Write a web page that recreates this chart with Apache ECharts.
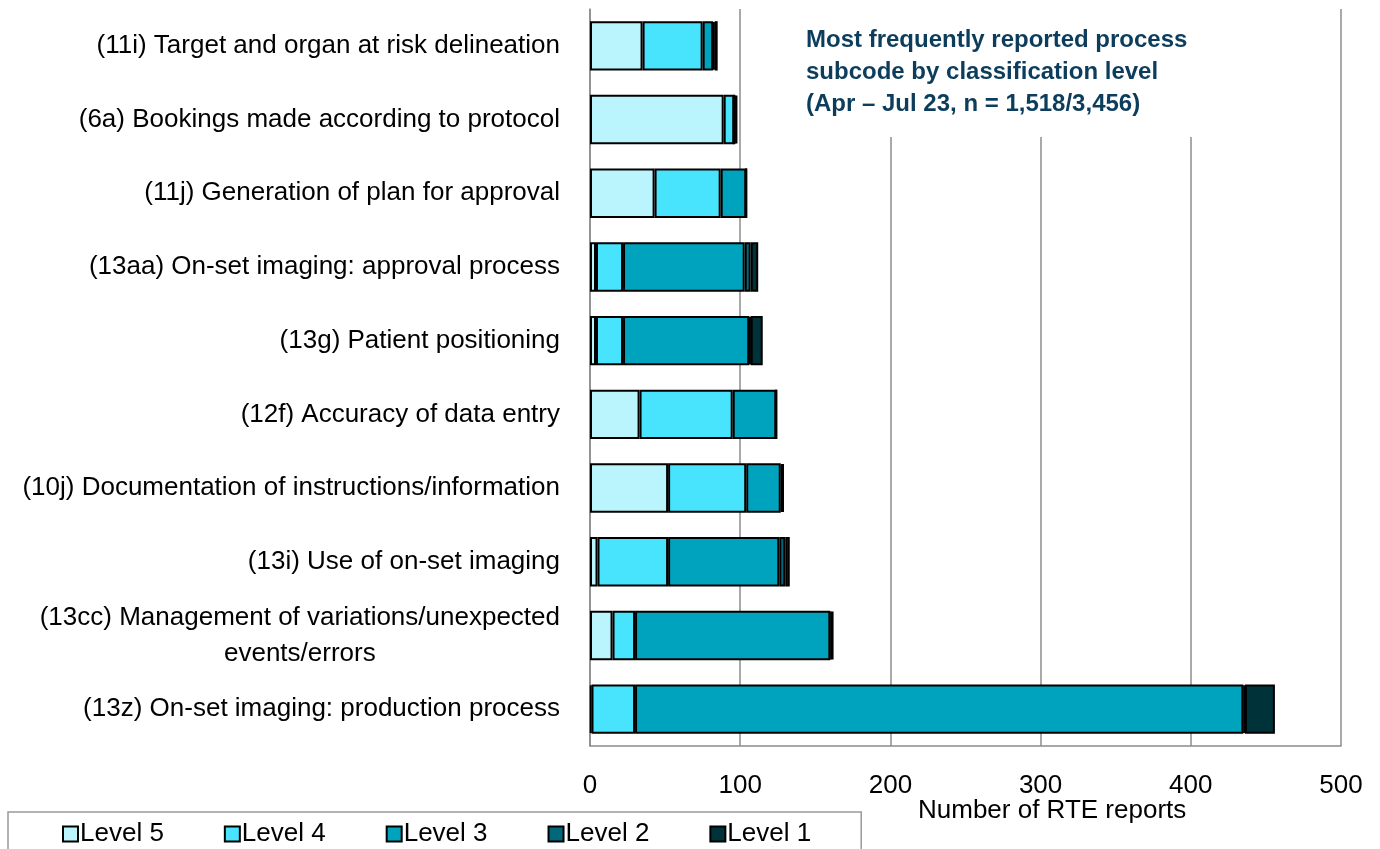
<!DOCTYPE html>
<html>
<head>
<meta charset="utf-8">
<script src="https://cdn.jsdelivr.net/npm/echarts@6/dist/echarts.min.js"></script>
<style>
  html, body { margin: 0; padding: 0; background: #fff; }
  #chart { width: 1380px; height: 849px; }
</style>
</head>
<body>
<div id="chart"></div>
<script>
// categories, top to bottom
var categories = [
    '(11i) Target and organ at risk delineation',
    '(6a) Bookings made according to protocol',
    '(11j) Generation of plan for approval',
    '(13aa) On-set imaging: approval process',
    '(13g) Patient positioning',
    '(12f) Accuracy of data entry',
    '(10j) Documentation of instructions/information',
    '(13i) Use of on-set imaging',
    '(13cc) Management of variations/unexpected\nevents/errors',
    '(13z) On-set imaging: production process'
];
var level5 = [35, 89, 43, 4, 4, 33, 52, 5, 15, 1];
var level4 = [40, 7, 44, 18, 18, 62, 52, 47, 15, 29];
var level3 = [7, 0, 17, 81, 84, 29, 23, 74, 130, 405];
var level2 = [1, 1, 0, 4, 1, 0, 1, 4, 1, 1];
var level1 = [2, 1, 0, 5, 8, 0, 1, 3, 1, 20];
var xTicks = [0, 100, 200, 300, 400, 500];

var font = "'Liberation Sans', Arial, sans-serif";

function makeSeries(name, data, color) {
    return {
        name: name,
        type: 'bar',
        stack: 'total',
        data: data,
        barCategoryGap: '33%',
        itemStyle: { color: color, borderColor: '#000', borderWidth: 2 },
        emphasis: { disabled: true }
    };
}

var chart = echarts.init(document.getElementById('chart'));
chart.setOption({
    animation: false,
    grid: { left: 590, right: 39, top: 9, bottom: 103 },
    legend: {
        left: 8,
        top: 812,
        icon: 'rect',
        itemWidth: 15,
        itemHeight: 15,
        itemGap: 60,
        padding: [9, 50, 20, 54],
        borderColor: '#999',
        borderWidth: 1.5,
        textStyle: { fontFamily: font, fontSize: 26, color: '#000', padding: [0, 0, 0, -3] },
        data: ['Level 5', 'Level 4', 'Level 3', 'Level 2', 'Level 1']
    },
    xAxis: {
        type: 'value',
        min: xTicks[0],
        max: xTicks[xTicks.length - 1],
        interval: 100,
        axisLine: { show: true, lineStyle: { color: '#8c8c8c', width: 1.5 } },
        axisTick: { show: false },
        axisLabel: { margin: 27, fontFamily: font, fontSize: 26, color: '#000' },
        splitLine: { show: true, lineStyle: { color: '#8c8c8c', width: 1.5 } }
    },
    yAxis: {
        type: 'category',
        inverse: true,
        data: categories,
        axisLine: { show: true, lineStyle: { color: '#8c8c8c', width: 1.5 } },
        axisTick: { show: false },
        axisLabel: {
            margin: 30,
            fontFamily: font,
            fontSize: 26,
            color: '#000',
            lineHeight: 36,
            formatter: function (v) {
                if (v.indexOf('\n') < 0) return v;
                return v.split('\n').map(function (s) { return '{c|' + s + '}'; }).join('\n');
            },
            rich: { c: { align: 'center', fontFamily: font, fontSize: 26, color: '#000', lineHeight: 36 } }
        }
    },
    graphic: [
        {
            // white panel behind the title, hides the gridlines there
            type: 'rect',
            z: 100,
            shape: { x: 745, y: 0, width: 590, height: 137 },
            style: { fill: '#fff' }
        },
        {
            type: 'text',
            z: 101,
            left: 806,
            top: 24,
            style: {
                text: 'Most frequently reported process\nsubcode by classification level\n(Apr \u2013 Jul 23, n = 1,518/3,456)',
                fontFamily: font,
                fontWeight: 'bold',
                fontSize: 24,
                lineHeight: 32,
                fill: '#0d3d5c'
            }
        },
        {
            type: 'text',
            left: 918,
            top: 798,
            style: {
                text: 'Number of RTE reports',
                fontFamily: font,
                fontSize: 26,
                fill: '#000'
            }
        }
    ],
    series: [
        makeSeries('Level 5', level5, '#baf4fd'),
        makeSeries('Level 4', level4, '#48e4fd'),
        makeSeries('Level 3', level3, '#00a3bd'),
        makeSeries('Level 2', level2, '#00687a'),
        makeSeries('Level 1', level1, '#00323a')
    ]
});
</script>
</body>
</html>
